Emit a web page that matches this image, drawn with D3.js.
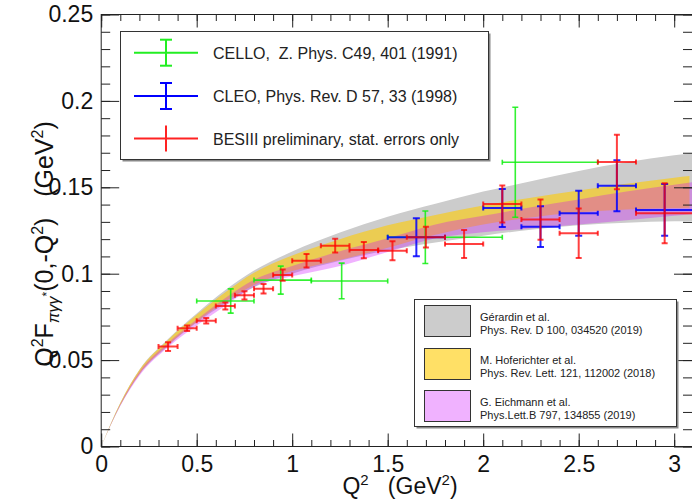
<!DOCTYPE html>
<html><head><meta charset="utf-8">
<script src="https://cdn.jsdelivr.net/npm/d3@7"></script>
<style>
html,body{margin:0;padding:0;background:#fff;}
svg{display:block;font-family:"Liberation Sans",Arial,Helvetica,sans-serif;}
</style></head><body>
<svg id="chart" width="692" height="500"></svg>
<script>
// ---------- data ----------
const X_TICKS = [0, 0.5, 1, 1.5, 2, 2.5, 3];
const X_TICK_LABELS = ["0", "0.5", "1", "1.5", "2", "2.5", "3"];
const Y_TICKS = [0, 0.05, 0.1, 0.15, 0.2, 0.25];
const Y_TICK_LABELS = ["0", "0.05", "0.1", "0.15", "0.2", "0.25"];

// Gérardin et al. (lattice) band
const GRAY_Q   = [0, 0.1, 0.2, 0.35, 0.5, 0.65, 0.8, 1.0, 1.25, 1.5, 1.75, 2.0, 2.25, 2.5, 2.75, 3.0, 3.1];
const GRAY_HI  = [0, 0.0253, 0.0444, 0.0622, 0.0770, 0.0905, 0.1018, 0.1128, 0.1238, 0.1330, 0.1405, 0.1475, 0.1535, 0.1595, 0.1645, 0.1685, 0.1700];
const GRAY_LO  = [0, 0.0237, 0.0417, 0.0582, 0.0717, 0.0827, 0.0922, 0.1000, 0.1075, 0.1135, 0.1180, 0.1220, 0.1255, 0.1280, 0.1295, 0.1303, 0.1305];
// Hoferichter et al. (dispersive) band
const YEL_Q    = [0, 0.1, 0.2, 0.35, 0.5, 0.65, 0.8, 1.0, 1.25, 1.5, 1.75, 2.0, 2.25, 2.5, 2.75, 3.0, 3.08];
const YEL_HI   = [0, 0.0252, 0.0442, 0.0617, 0.0762, 0.0893, 0.1005, 0.1105, 0.1200, 0.1280, 0.1340, 0.1395, 0.1440, 0.1482, 0.1520, 0.1555, 0.1565];
const YEL_LO   = [0, 0.0240, 0.0420, 0.0588, 0.0722, 0.0840, 0.0935, 0.1015, 0.1080, 0.1150, 0.1225, 0.1285, 0.1325, 0.1355, 0.1372, 0.1380, 0.1382];
// Eichmann et al. (DSE) band
const PINK_Q   = [0, 0.1, 0.2, 0.35, 0.5, 0.65, 0.8, 1.0, 1.25, 1.5, 1.75, 2.0, 2.25, 2.5, 2.75, 3.0, 3.1];
const PINK_HI  = [0, 0.0245, 0.0432, 0.0600, 0.0735, 0.0860, 0.0965, 0.1045, 0.1130, 0.1205, 0.1285, 0.1335, 0.1385, 0.1430, 0.1475, 0.1515, 0.1530];
const PINK_LO  = [0, 0.0235, 0.0410, 0.0575, 0.0700, 0.0815, 0.0925, 0.0985, 0.1045, 0.1125, 0.1205, 0.1240, 0.1262, 0.1285, 0.1310, 0.1335, 0.1345];

// CELLO
const CELLO_Q    = [0.678, 0.94, 1.259, 1.697, 2.168];
const CELLO_QLO  = [0.5, 0.8, 1.1, 1.5, 2.1];
const CELLO_QHI  = [0.8, 1.1, 1.5, 2.1, 2.6];
const CELLO_F    = [0.0842, 0.0963, 0.0958, 0.1211, 0.1645];
const CELLO_FERR = [0.0070, 0.0081, 0.0103, 0.0152, 0.0318];

// CLEO
const CLEO_Q    = [1.65, 2.1, 2.3, 2.5, 2.7, 2.95];
const CLEO_QERR = [0.15, 0.1, 0.1, 0.1, 0.1, 0.15];
const CLEO_F    = [0.1211, 0.1380, 0.1272, 0.1350, 0.1509, 0.1369];
const CLEO_FERR = [0.0110, 0.0110, 0.0118, 0.0130, 0.0148, 0.0150];

// BESIII preliminary
const BES_Q    = [0.35, 0.45, 0.55, 0.65, 0.75, 0.85, 0.95, 1.075, 1.225, 1.375, 1.525, 1.7, 1.9, 2.1, 2.3, 2.5, 2.7, 2.95];
const BES_QERR = [0.05, 0.05, 0.05, 0.05, 0.05, 0.05, 0.05, 0.075, 0.075, 0.075, 0.075, 0.1, 0.1, 0.1, 0.1, 0.1, 0.1, 0.15];
const BES_F    = [0.0578, 0.0684, 0.0728, 0.0813, 0.0875, 0.0913, 0.0992, 0.1075, 0.1162, 0.1137, 0.1133, 0.1211, 0.1172, 0.1403, 0.1313, 0.1234, 0.1646, 0.1350];
const BES_FERR = [0.0025, 0.0016, 0.0016, 0.0020, 0.0024, 0.0027, 0.0033, 0.0039, 0.0040, 0.0047, 0.0055, 0.0060, 0.0081, 0.0107, 0.0116, 0.0143, 0.0158, 0.0174];

const DATA_LEGEND = [
  {label: "CELLO,  Z. Phys. C49, 401 (1991)", color: "#22ee22", caps: true},
  {label: "CLEO, Phys. Rev. D 57, 33 (1998)", color: "#0000ff", caps: true},
  {label: "BESIII preliminary, stat. errors only", color: "#ff2222", caps: false}
];
const BAND_LEGEND = [
  {l1: "Gérardin et al.", l2: "Phys. Rev. D 100, 034520 (2019)"},
  {l1: "M. Hoferichter et al.", l2: "Phys. Rev. Lett. 121, 112002 (2018)"},
  {l1: "G. Eichmann et al.", l2: "Phys.Lett.B 797, 134855 (2019)"}
];

// ---------- styles ----------
const GRAY_FILL = "#cccccc";
const YEL_FILL = "rgba(255,204,0,0.6)";
const PINK_FILL = "rgba(204,0,255,0.3)";

const svg = d3.select("#chart");
const x = d3.scaleLinear().domain([0, 3.1]).range([101.2, 693.3]);
const y = d3.scaleLinear().domain([0, 0.25]).range([446.5, 14.5]);

svg.append("defs").append("clipPath").attr("id", "plotclip")
  .append("rect").attr("x", x(0)).attr("y", y(0.25))
  .attr("width", x(3.1) - x(0)).attr("height", y(0) - y(0.25));

const plot = svg.append("g").attr("clip-path", "url(#plotclip)");

function band(qs, lo, hi, fill) {
  const d = qs.map((q, i) => ({q: q, lo: lo[i], hi: hi[i]}));
  const area = d3.area().x(p => x(p.q)).y0(p => y(p.lo)).y1(p => y(p.hi)).curve(d3.curveMonotoneX);
  plot.append("path").datum(d).attr("d", area).attr("fill", fill).attr("stroke", "none");
}
band(GRAY_Q, GRAY_LO, GRAY_HI, GRAY_FILL);
band(YEL_Q, YEL_LO, YEL_HI, YEL_FILL);
band(PINK_Q, PINK_LO, PINK_HI, PINK_FILL);

function errBars(pts, color, sw, opacity, capW, capH) {
  const g = plot.append("g").attr("stroke", color).attr("stroke-width", sw)
    .attr("stroke-opacity", opacity).attr("fill", "none");
  pts.forEach(p => {
    const cx = x(p.q), cy = y(p.f);
    const x0 = x(p.qlo), x1 = x(p.qhi), y0 = y(p.flo), y1 = y(p.fhi);
    g.append("line").attr("x1", x0).attr("x2", x1).attr("y1", cy).attr("y2", cy);
    g.append("line").attr("x1", cx).attr("x2", cx).attr("y1", y0).attr("y2", y1);
    g.append("line").attr("x1", cx - capW).attr("x2", cx + capW).attr("y1", y0).attr("y2", y0);
    g.append("line").attr("x1", cx - capW).attr("x2", cx + capW).attr("y1", y1).attr("y2", y1);
    g.append("line").attr("x1", x0).attr("x2", x0).attr("y1", cy - capH).attr("y2", cy + capH);
    g.append("line").attr("x1", x1).attr("x2", x1).attr("y1", cy - capH).attr("y2", cy + capH);
  });
}

const cello = CELLO_Q.map((q, i) => ({q: q, f: CELLO_F[i], qlo: CELLO_QLO[i], qhi: CELLO_QHI[i],
  flo: CELLO_F[i] - CELLO_FERR[i], fhi: CELLO_F[i] + CELLO_FERR[i]}));
const cleo = CLEO_Q.map((q, i) => ({q: q, f: CLEO_F[i], qlo: q - CLEO_QERR[i], qhi: q + CLEO_QERR[i],
  flo: CLEO_F[i] - CLEO_FERR[i], fhi: CLEO_F[i] + CLEO_FERR[i]}));
const bes = BES_Q.map((q, i) => ({q: q, f: BES_F[i], qlo: q - BES_QERR[i], qhi: q + BES_QERR[i],
  flo: BES_F[i] - BES_FERR[i], fhi: BES_F[i] + BES_FERR[i]}));

errBars(cello, "#11ee11", 1.6, 0.85, 3, 2.5);
errBars(cleo, "#0000ff", 2, 0.85, 3.5, 2.5);
errBars(bes, "#ff0000", 2, 0.75, 3, 2.5);

// ---------- axes ----------
const axisColor = "#222";
function styleAxis(g, withText) {
  g.select(".domain").remove();
  g.selectAll(".tick line").attr("stroke", axisColor);
  if (withText) {
    g.selectAll(".tick text").attr("fill", "#111").style("font-size", "23px")
      .style("font-family", "'Liberation Sans',Arial,Helvetica,sans-serif");
  } else {
    g.selectAll(".tick text").remove();
  }
}
const xMinor = d3.range(0, 3.101, 0.1).map(v => +v.toFixed(2));
const yMinor = d3.range(0, 0.2501, 0.01).map(v => +v.toFixed(3));

// bottom
svg.append("g").attr("transform", `translate(0,${y(0)})`)
  .call(d3.axisBottom(x).tickValues(xMinor).tickSize(-6.5).tickSizeOuter(0))
  .call(g => styleAxis(g, false));
svg.append("g").attr("transform", `translate(0,${y(0)})`)
  .call(d3.axisBottom(x).tickValues(X_TICKS).tickFormat((d, i) => X_TICK_LABELS[i])
    .tickSize(-13).tickPadding(9).tickSizeOuter(0))
  .call(g => styleAxis(g, true));
// top
svg.append("g").attr("transform", `translate(0,${y(0.25)})`)
  .call(d3.axisTop(x).tickValues(xMinor).tickSize(-6.5).tickSizeOuter(0))
  .call(g => styleAxis(g, false));
svg.append("g").attr("transform", `translate(0,${y(0.25)})`)
  .call(d3.axisTop(x).tickValues(X_TICKS).tickSize(-13).tickSizeOuter(0))
  .call(g => styleAxis(g, false));
// left
svg.append("g").attr("transform", `translate(${x(0)},0)`)
  .call(d3.axisLeft(y).tickValues(yMinor).tickSize(-9).tickSizeOuter(0))
  .call(g => styleAxis(g, false));
svg.append("g").attr("transform", `translate(${x(0)},0)`)
  .call(d3.axisLeft(y).tickValues(Y_TICKS).tickFormat((d, i) => Y_TICK_LABELS[i])
    .tickSize(-18).tickPadding(8).tickSizeOuter(0))
  .call(g => styleAxis(g, true));
// right
svg.append("g").attr("transform", `translate(${x(3.1) - 1.3},0)`)
  .call(d3.axisRight(y).tickValues(yMinor).tickSize(-9).tickSizeOuter(0))
  .call(g => styleAxis(g, false));
svg.append("g").attr("transform", `translate(${x(3.1) - 1.3},0)`)
  .call(d3.axisRight(y).tickValues(Y_TICKS).tickSize(-18).tickSizeOuter(0))
  .call(g => styleAxis(g, false));

// frame
svg.append("rect").attr("x", x(0)).attr("y", y(0.25))
  .attr("width", x(3.1) - x(0)).attr("height", y(0) - y(0.25))
  .attr("fill", "none").attr("stroke", axisColor).attr("stroke-width", 1);

// ---------- axis titles ----------
const xt = svg.append("text").attr("x", 400).attr("y", 494).attr("text-anchor", "middle")
  .attr("xml:space", "preserve").style("white-space", "pre").style("font-size", "23px").attr("fill", "#111");
xt.append("tspan").text("Q");
xt.append("tspan").attr("dy", -9).style("font-size", "15px").text("2");
xt.append("tspan").attr("dy", 9).text("   (GeV");
xt.append("tspan").attr("dy", -9).style("font-size", "15px").text("2");
xt.append("tspan").attr("dy", 9).text(")");

const yt = svg.append("text").attr("transform", "translate(53,244) rotate(-90)").attr("text-anchor", "middle")
  .attr("xml:space", "preserve").style("white-space", "pre").style("font-size", "25px").attr("fill", "#111");
yt.append("tspan").text("Q");
yt.append("tspan").attr("dy", -10).style("font-size", "16px").text("2");
yt.append("tspan").attr("dy", 10).text("F");
yt.append("tspan").attr("dy", 6).style("font-size", "16px").style("font-style", "italic").text("πγγ");
yt.append("tspan").attr("dy", -8).style("font-size", "12px").text("*");
yt.append("tspan").attr("dy", 2).text("(0,-Q");
yt.append("tspan").attr("dy", -10).style("font-size", "16px").text("2");
yt.append("tspan").attr("dy", 10).text(")   (GeV");
yt.append("tspan").attr("dy", -10).style("font-size", "16px").text("2");
yt.append("tspan").attr("dy", 10).text(")");

// ---------- legends ----------
function legendBox(x0, y0, w, h) {
  svg.append("rect").attr("x", x0 + 2).attr("y", y0 + 2).attr("width", w).attr("height", h).attr("fill", "#888");
  svg.append("rect").attr("x", x0).attr("y", y0).attr("width", w).attr("height", h)
    .attr("fill", "#fff").attr("stroke", "#333").attr("stroke-width", 1);
}
legendBox(120.5, 31.5, 368, 128);
const lg1 = svg.append("g");
const L1_Y = [52.7, 96, 138.5];
DATA_LEGEND.forEach((e, i) => {
  const cy = L1_Y[i];
  const g = lg1.append("g").attr("stroke", e.color).attr("stroke-width", 2);
  g.append("line").attr("x1", 134).attr("x2", 198).attr("y1", cy).attr("y2", cy);
  g.append("line").attr("x1", 166).attr("x2", 166).attr("y1", cy - 13).attr("y2", cy + 13);
  if (e.caps) {
    g.append("line").attr("x1", 160).attr("x2", 172).attr("y1", cy - 13).attr("y2", cy - 13);
    g.append("line").attr("x1", 160).attr("x2", 172).attr("y1", cy + 13).attr("y2", cy + 13);
  }
  lg1.append("text").attr("x", 213).attr("y", cy + 6).attr("xml:space", "preserve")
    .style("white-space", "pre").style("font-size", "16px").attr("fill", "#222").text(e.label);
});

legendBox(414.5, 299.5, 262, 127);
const SW_FILLS = [GRAY_FILL, YEL_FILL, PINK_FILL];
const L2_Y = [321, 364, 406];
BAND_LEGEND.forEach((e, i) => {
  const cy = L2_Y[i];
  svg.append("rect").attr("x", 424.5).attr("y", cy - 15.5).attr("width", 46).attr("height", 31)
    .attr("fill", SW_FILLS[i]).attr("stroke", "#333").attr("stroke-width", 1);
  svg.append("text").attr("x", 480).attr("y", cy - 0.5).style("font-size", "11px").attr("fill", "#222").text(e.l1);
  svg.append("text").attr("x", 480).attr("y", cy + 12.5).style("font-size", "11px").attr("fill", "#222").text(e.l2);
});
</script></body></html>
